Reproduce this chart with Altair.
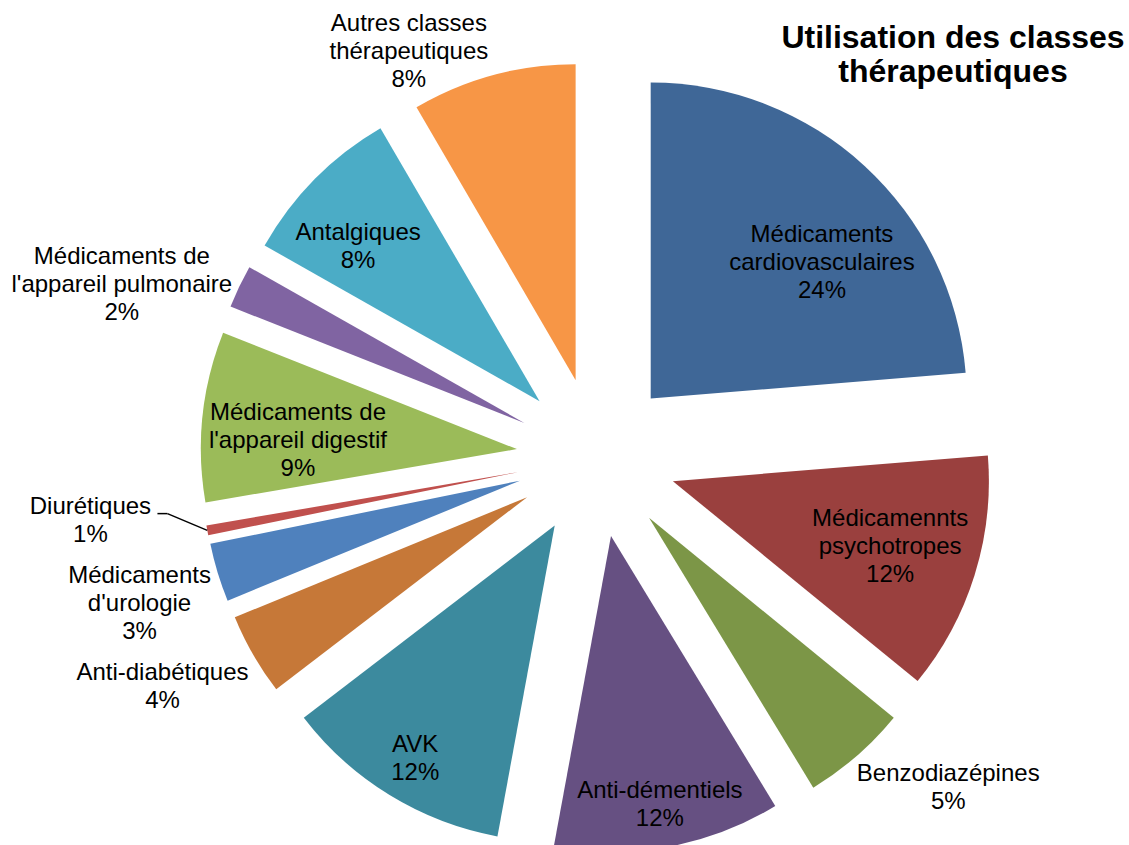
import math
import altair as alt
import pandas as pd

# ---------------- data ----------------
categories = [
    "Médicaments cardiovasculaires",
    "Médicamennts psychotropes",
    "Benzodiazépines",
    "Anti-démentiels",
    "AVK",
    "Anti-diabétiques",
    "Médicaments d'urologie",
    "Diurétiques",
    "Médicaments de l'appareil digestif",
    "Médicaments de l'appareil pulmonaire",
    "Antalgiques",
    "Autres classes thérapeutiques",
]
shares = [23.7, 12.2, 5.4, 11.6, 11.7, 4.2, 3.0, 0.5, 8.7, 2.2, 8.4, 8.4]
pct_labels = ["24%", "12%", "5%", "12%", "12%", "4%", "3%", "1%", "9%", "2%", "8%", "8%"]
label_lines = [
    "Médicaments\ncardiovasculaires",
    "Médicamennts\npsychotropes",
    "Benzodiazépines",
    "Anti-démentiels",
    "AVK",
    "Anti-diabétiques",
    "Médicaments\nd'urologie",
    "Diurétiques",
    "Médicaments de\nl'appareil digestif",
    "Médicaments de\nl'appareil pulmonaire",
    "Antalgiques",
    "Autres classes\nthérapeutiques",
]
title_text = "Utilisation des classes\nthérapeutiques"

# ---------------- styles / layout ----------------
colors = ["#3F6797", "#9A403E", "#7C9647", "#665082", "#3C8A9E", "#C67838",
          "#4F81BD", "#C0504D", "#9BBB59", "#8064A2", "#4BACC6", "#F79646"]
W, H = 1129, 845
CX, CY = 596.5, 457.4      # pie centre
R = 316                    # slice radius
EXPLODE = 80               # explosion distance
LINE_H = 28
# label placement: distance from centre and angular nudge (degrees)
label_radius = [298, 307, 483, 353, 352, 491, 480, 510, 299, 505, 318, 447]
label_nudge = [6.5, -0.3, -5.7, 0.1, -0.5, 2.0, -0.9, 3.5, -2.8, -5.6, -3.2, -9.7]
FONT = "Liberation Sans"

df = pd.DataFrame({
    "idx": list(range(len(categories))),
    "category": categories,
    "share": shares,
    "label": [l + "\n" + p for l, p in zip(label_lines, pct_labels)],
    "lab_r": label_radius,
    "lab_n": label_nudge,
})

base = (
    alt.Chart(df)
    .transform_joinaggregate(total="sum(share)")
    .transform_window(cum="sum(share)", sort=[alt.SortField("idx")], frame=[None, 0])
    .transform_calculate(
        f0="(datum.cum - datum.share) / datum.total",
        f1="datum.cum / datum.total",
    )
    .transform_calculate(mid="PI * (datum.f0 + datum.f1)")
    .transform_calculate(
        px=f"{CX} + {EXPLODE} * sin(datum.mid)",
        py=f"{CY} - {EXPLODE} * cos(datum.mid)",
        lx=f"{CX} + datum.lab_r * sin(datum.mid + datum.lab_n * PI / 180)",
        lyc=f"{CY} - datum.lab_r * cos(datum.mid + datum.lab_n * PI / 180)",
        nlines="length(split(datum.label, '\\n'))",
        ex=f"{CX} + {EXPLODE + R} * sin(datum.mid)",
        ey=f"{CY} - {EXPLODE + R} * cos(datum.mid)",
    )
    .transform_calculate(ly=f"datum.lyc - (datum.nlines - 1) * {LINE_H} / 2")
)

arcs = base.mark_arc(outerRadius=R).encode(
    x=alt.X("px:Q", scale=None, axis=None),
    y=alt.Y("py:Q", scale=None, axis=None),
    theta=alt.Theta("f0:Q", scale=alt.Scale(domain=[0, 1], range=[0, 2 * math.pi])),
    theta2="f1:Q",
    color=alt.Color("category:N", scale=alt.Scale(domain=categories, range=colors), legend=None),
)

labels = base.mark_text(
    font=FONT, fontSize=24, lineBreak="\n", lineHeight=LINE_H,
    align="center", baseline="middle", color="black",
).encode(
    x=alt.X("lx:Q", scale=None, axis=None),
    y=alt.Y("ly:Q", scale=None, axis=None),
    text="label:N",
)

leader_base = base.transform_filter(alt.datum.category == "Diurétiques").transform_calculate(
    sx="datum.lx + 67", kx="datum.lx + 77", sy="datum.lyc - 7"
)
leader1 = leader_base.mark_rule(color="black", strokeWidth=1.5).encode(
    x=alt.X("sx:Q", scale=None, axis=None), x2="kx:Q",
    y=alt.Y("sy:Q", scale=None, axis=None), y2="sy:Q",
)
leader2 = leader_base.mark_rule(color="black", strokeWidth=1.5).encode(
    x=alt.X("kx:Q", scale=None, axis=None), x2="ex:Q",
    y=alt.Y("sy:Q", scale=None, axis=None), y2="ey:Q",
)

title = alt.Chart(pd.DataFrame({"t": [title_text]})).mark_text(
    font=FONT, fontSize=32, fontWeight="bold", lineBreak="\n", lineHeight=34,
    align="center", baseline="middle", color="black",
).encode(x=alt.value(953), y=alt.value(38), text="t:N")

chart = (
    alt.layer(arcs, leader1, leader2, labels, title)
    .properties(width=W, height=H, autosize=alt.AutoSizeParams(type="none"), padding=0,
                background="white")
    .configure_view(stroke=None)
)

chart.save("out.html", embed_options={"renderer": "svg", "actions": False})
